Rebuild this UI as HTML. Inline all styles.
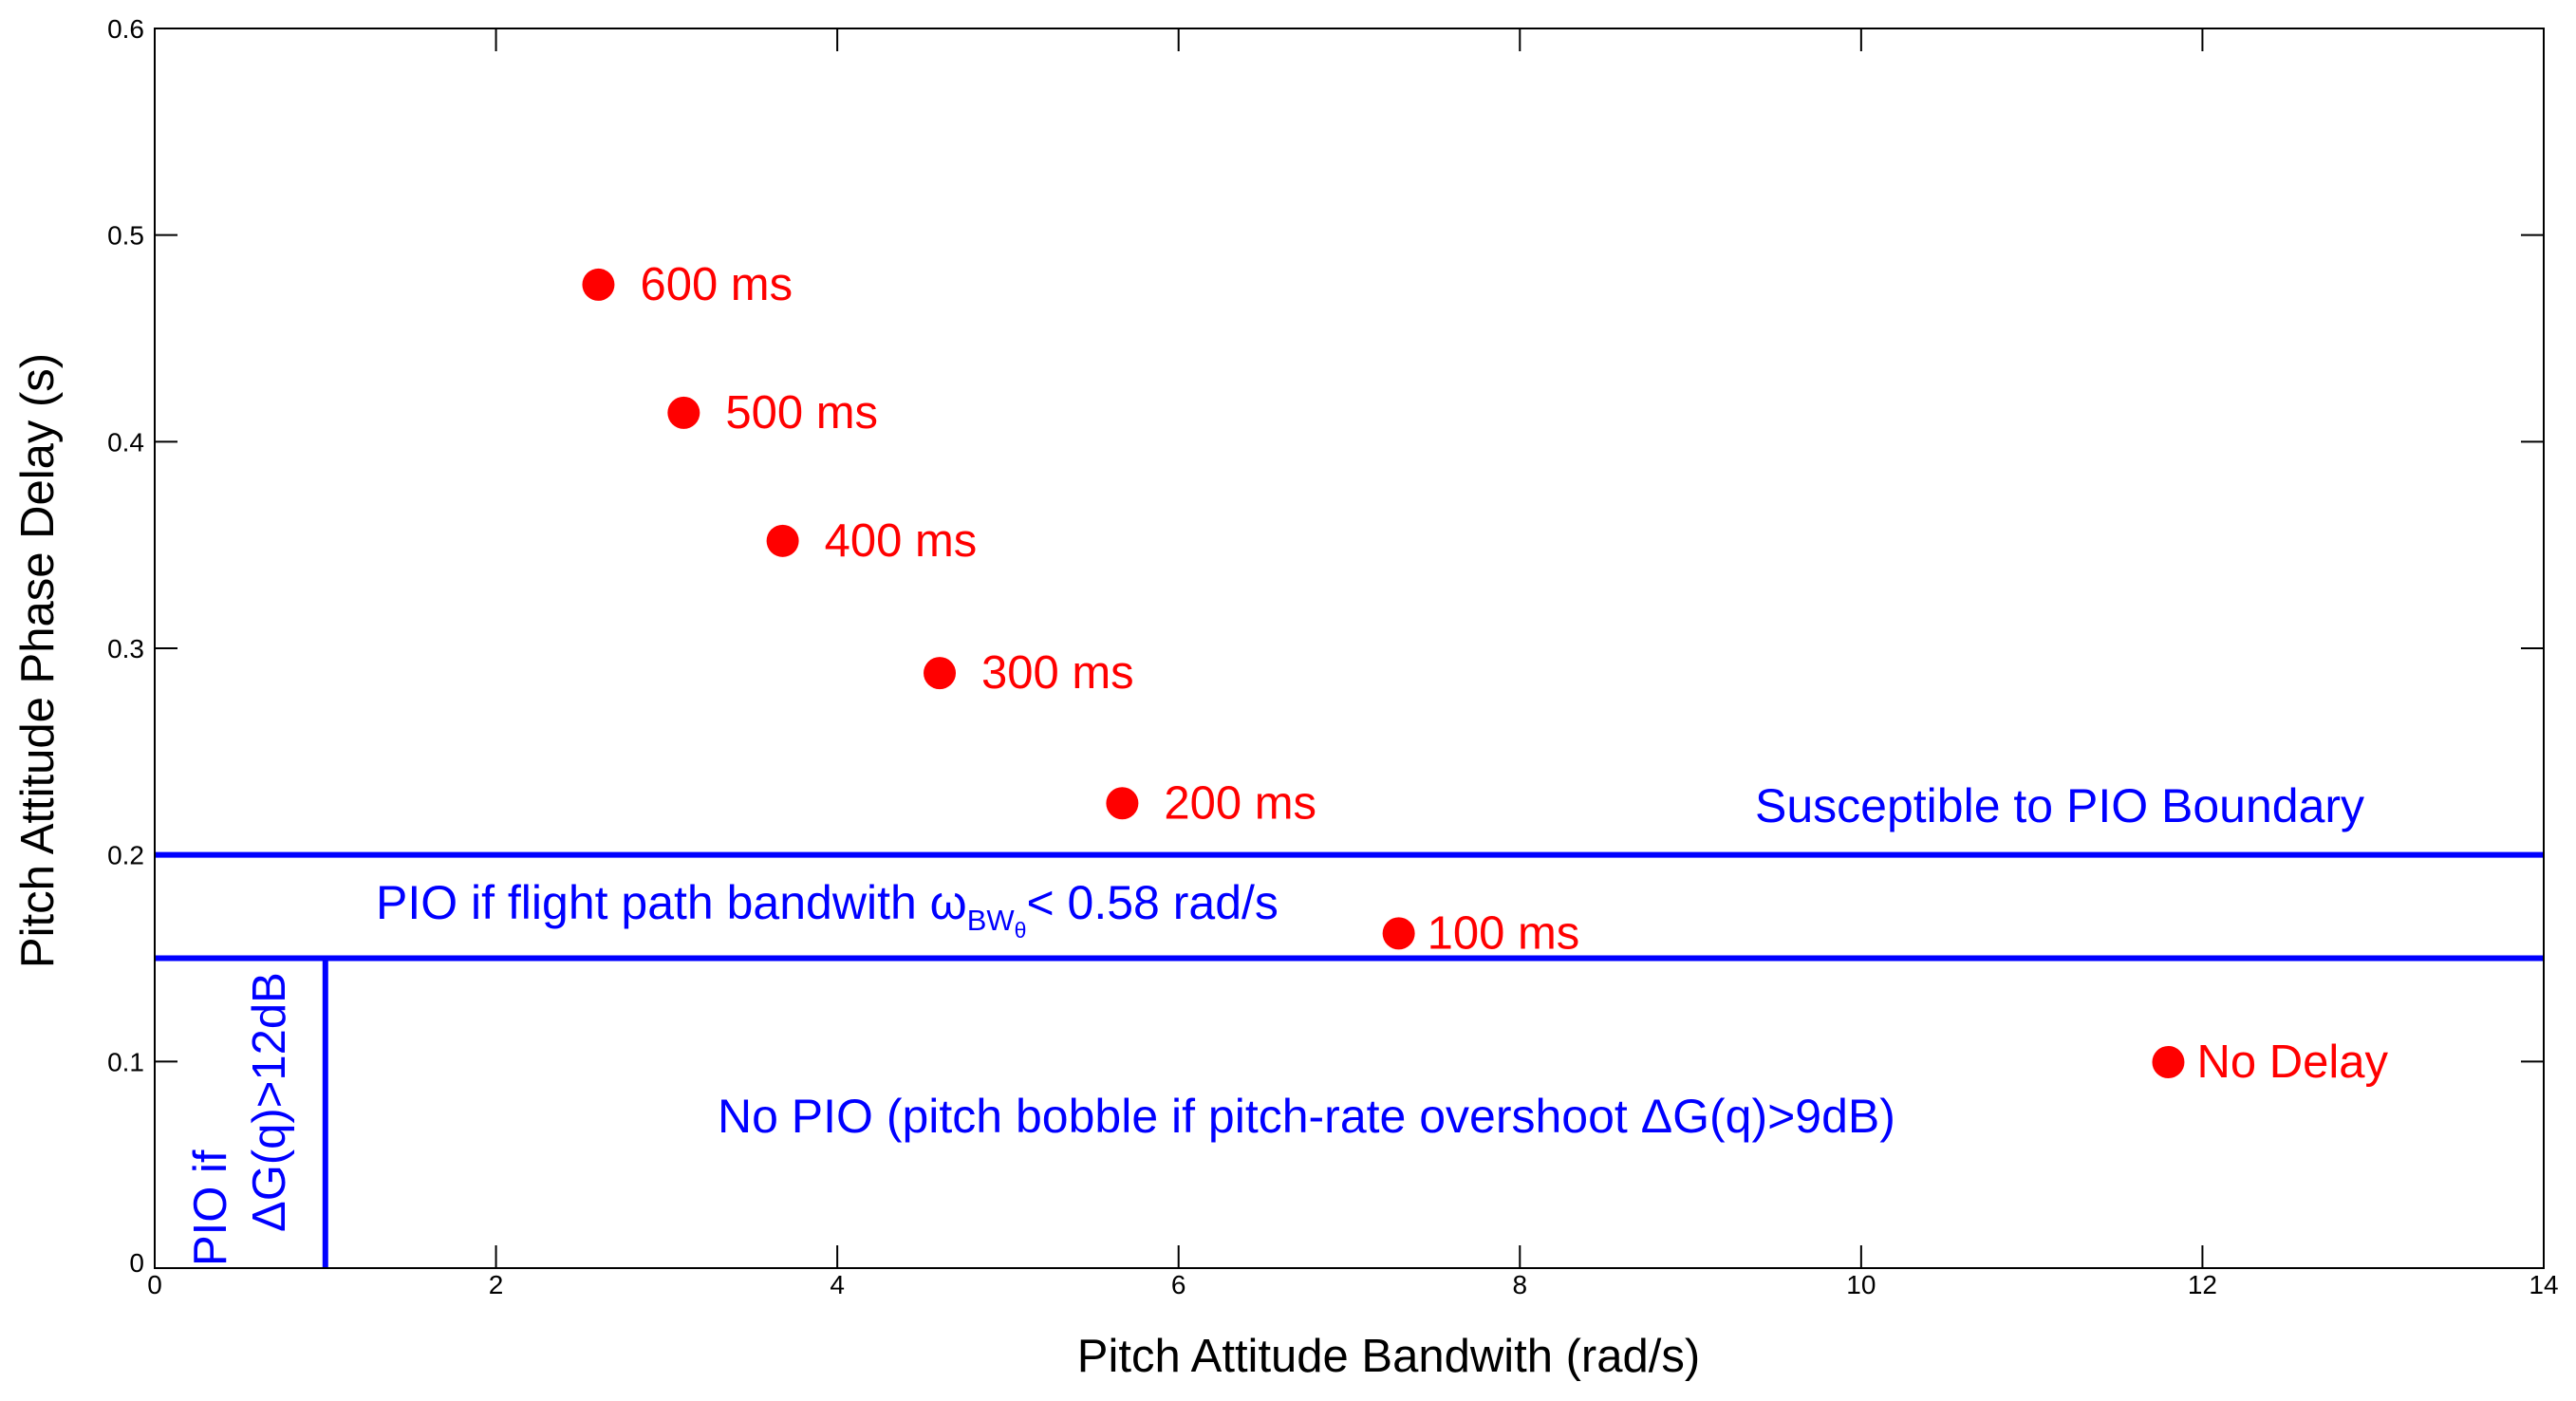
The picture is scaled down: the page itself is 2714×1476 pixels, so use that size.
<!DOCTYPE html>
<html><head><meta charset="utf-8"><style>
html,body{margin:0;padding:0;background:#fff;}
svg{display:block;font-family:"Liberation Sans",Arial,sans-serif;}
</style></head><body>
<svg id="chart" width="2714" height="1476" viewBox="0 0 2714 1476" xmlns="http://www.w3.org/2000/svg">
<rect width="2714" height="1476" fill="#fff"/>
<g id="ticks"></g>
<g id="bounds"></g>
<g id="points"></g>
<rect x="163" y="30" width="2517" height="1306" fill="none" stroke="#000" stroke-width="2"/>
<text x="1463" y="1445" font-size="49" text-anchor="middle">Pitch Attitude Bandwith (rad/s)</text>
<text transform="translate(56,696) rotate(-90)" font-size="49" text-anchor="middle">Pitch Attitude Phase Delay (s)</text>
<text x="1849" y="866" font-size="50" fill="#0000ff">Susceptible to PIO Boundary</text>
<text x="396" y="968" font-size="50" fill="#0000ff">PIO if flight path bandwith ω<tspan font-size="31" dy="12">BW</tspan><tspan font-size="23" dy="8">θ</tspan><tspan dy="-20">&lt; 0.58 rad/s</tspan></text>
<text x="756" y="1193" font-size="50" fill="#0000ff">No PIO (pitch bobble if pitch-rate overshoot ΔG(q)&gt;9dB)</text>
<text transform="translate(238,1334) rotate(-90)" font-size="49" fill="#0000ff">PIO if</text>
<text transform="translate(300,1298) rotate(-90)" font-size="49" fill="#0000ff">ΔG(q)&gt;12dB</text>
</svg>
<script>
const xTicks = [0,2,4,6,8,10,12,14];
const yTicks = [0,0.1,0.2,0.3,0.4,0.5,0.6];
const yTickLabels = ["0","0.1","0.2","0.3","0.4","0.5","0.6"];
const pointLabels = ["600 ms","500 ms","400 ms","300 ms","200 ms","100 ms","No Delay"];
const bandwidth = [2.60,3.10,3.68,4.60,5.67,7.29,11.80];
const phaseDelay = [0.476,0.414,0.352,0.288,0.225,0.162,0.0997];
const hBoundaries = [0.2,0.15];
const vBoundaryX = [1];
const vBoundaryTop = [0.15];

const NS="http://www.w3.org/2000/svg";
const L=163,R=2680,T=30,B=1336;
const sx=v=>L+(v-0)/(14-0)*(R-L);
const sy=v=>B-(v-0)/(0.6-0)*(B-T);
function mk(tag,attrs,parent){const e=document.createElementNS(NS,tag);for(const k in attrs)e.setAttribute(k,attrs[k]);parent.appendChild(e);return e;}
const gt=document.getElementById('ticks');
xTicks.forEach(v=>{
  const x=sx(v);
  const t1=mk('line',{x1:x,x2:x,y1:B,y2:B-24,stroke:'#000','stroke-width':2},gt);
  
  
  const t2=mk('line',{x1:x,x2:x,y1:T,y2:T+24,stroke:'#000','stroke-width':2},gt);
  
  
  const lb=mk('text',{x:x,y:1363,'font-size':28,'text-anchor':'middle'},gt);
  lb.textContent=String(v);
  
  
});
yTicks.forEach((v,i)=>{
  const y=sy(v);
  const t1=mk('line',{x1:L,x2:L+24,y1:y,y2:y,stroke:'#000','stroke-width':2},gt);
  
  
  const t2=mk('line',{x1:R,x2:R-24,y1:y,y2:y,stroke:'#000','stroke-width':2},gt);
  
  
  const lb=mk('text',{x:152,y:y+(i===0?4:10),'font-size':28,'text-anchor':'end'},gt);
  lb.textContent=yTickLabels[i];
  
  
});
const gb=document.getElementById('bounds');
hBoundaries.forEach(v=>{
  const ln=mk('line',{x1:L,x2:R,y1:sy(v),y2:sy(v),stroke:'#0000ff','stroke-width':6},gb);
  
  
});
vBoundaryX.forEach((v,i)=>{
  const ln=mk('line',{x1:sx(v),x2:sx(v),y1:sy(vBoundaryTop[i]),y2:B,stroke:'#0000ff','stroke-width':6},gb);
  
  
});
const gp=document.getElementById('points');
bandwidth.forEach((v,i)=>{
  const cx=sx(v),cy=sy(phaseDelay[i]);
  const c=mk('circle',{cx:cx,cy:cy,r:17,fill:'#ff0000'},gp);
  
  
  const lb=mk('text',{x:cx+(i>=5?30:44),y:cy+16,'font-size':49,fill:'#ff0000'},gp);
  lb.textContent=pointLabels[i];
  
  
});
</script>
</body></html>
